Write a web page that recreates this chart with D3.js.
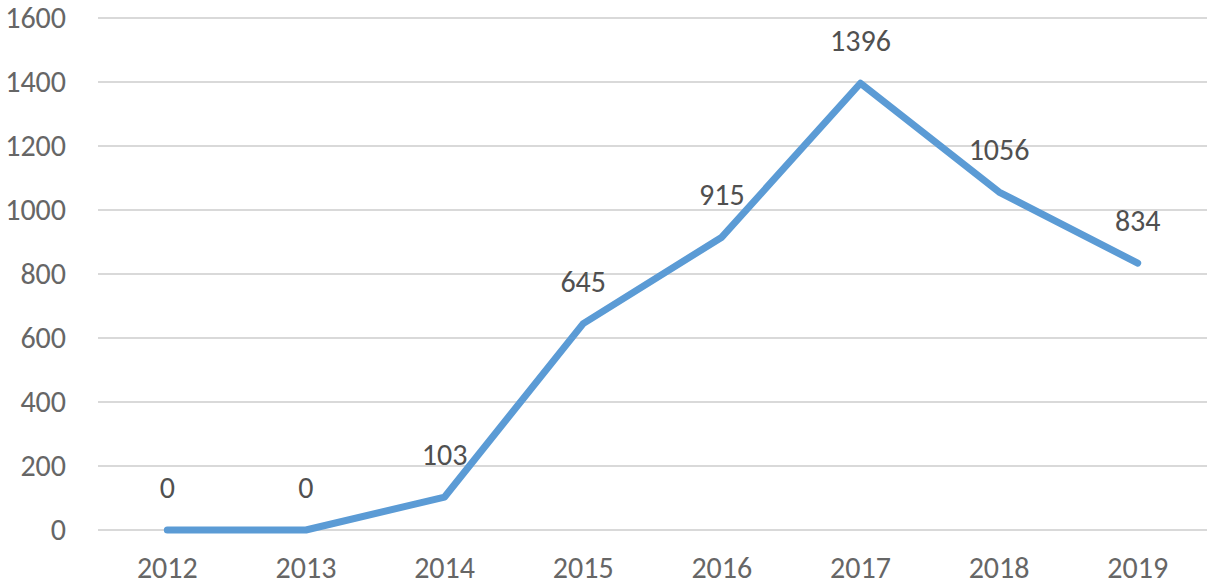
<!DOCTYPE html>
<html>
<head>
<meta charset="utf-8">
<script src="https://cdn.jsdelivr.net/npm/d3@7"></script>
<style>
  body { margin: 0; background: #fff; }
  text { font-family: Calibri, Carlito, Lato, sans-serif; }
</style>
</head>
<body>
<div id="container"></div>
<script>
/* CONSTANTS AND GLOBALS */
const width = 1214,
  height = 586,
  margin = { top: 18, bottom: 56, left: 98, right: 7 };

/* DATA */
const years = ["2012", "2013", "2014", "2015", "2016", "2017", "2018", "2019"];
const values = [0, 0, 103, 645, 915, 1396, 1056, 834];
const yTicks = [0, 200, 400, 600, 800, 1000, 1200, 1400, 1600];

const svg = d3.select("#container")
  .append("svg")
  .attr("width", width)
  .attr("height", height);

// scales
const xScale = d3.scaleBand()
  .domain(years)
  .range([margin.left, width - margin.right]);

const yScale = d3.scaleLinear()
  .domain([0, 1600])
  .range([height - margin.bottom, margin.top]);

// gridlines
svg.append("g")
  .selectAll("line")
  .data(yTicks)
  .join("line")
  .attr("x1", margin.left)
  .attr("x2", width - margin.right)
  .attr("y1", d => yScale(d))
  .attr("y2", d => yScale(d))
  .attr("stroke", "#d9d9d9")
  .attr("stroke-width", 2);

// y axis
const yAxis = svg.append("g")
  .attr("transform", `translate(${margin.left}, 0)`)
  .call(d3.axisLeft(yScale).tickValues(yTicks).tickFormat(d3.format("d")).tickSize(0).tickPadding(32));
yAxis.select(".domain").remove();
yAxis.selectAll("text")
  .attr("font-size", 30)
  .attr("fill", "#666666")
  .attr("font-family", "Calibri, Carlito, Lato, sans-serif");

// x axis
const xAxis = svg.append("g")
  .attr("transform", `translate(0, ${height - margin.bottom})`)
  .call(d3.axisBottom(xScale).tickSize(0).tickPadding(27));
xAxis.select(".domain").remove();
xAxis.selectAll("text")
  .attr("font-size", 30)
  .attr("fill", "#666666")
  .attr("font-family", "Calibri, Carlito, Lato, sans-serif");

const cx = d => xScale(d) + xScale.bandwidth() / 2;

// line
const line = d3.line()
  .x((d, i) => cx(years[i]))
  .y(d => yScale(d));

svg.append("path")
  .datum(values)
  .attr("d", line)
  .attr("fill", "none")
  .attr("stroke", "#5b9bd5")
  .attr("stroke-width", 7)
  .attr("stroke-linecap", "round")
  .attr("stroke-linejoin", "round");

// data labels
svg.append("g")
  .selectAll("text")
  .data(values)
  .join("text")
  .attr("x", (d, i) => cx(years[i]))
  .attr("y", d => yScale(d) - 32)
  .attr("text-anchor", "middle")
  .attr("font-size", 30)
  .attr("fill", "#505050")
  .text(d => d);
</script>
</body>
</html>
